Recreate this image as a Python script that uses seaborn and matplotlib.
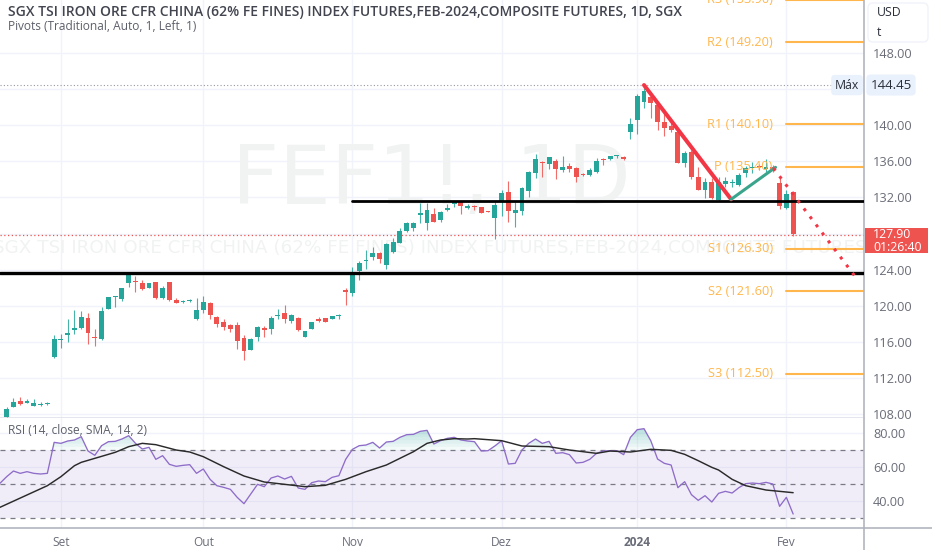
import numpy as np
import matplotlib
matplotlib.use("Agg")
import matplotlib.pyplot as plt
from matplotlib.lines import Line2D
from matplotlib.patches import FancyBboxPatch
import seaborn as sns

# candles, one value per trading day
opens = [107.72,108.83,109.46,109.24,108.94,108.98,109.09,114.33,116.18,116.77,117.28,117.51,118.65,116.55,116.29,119.65,
         120.94,120.79,122.49,122.75,122.56,121.97,122.60,120.83,122.67,120.64,120.42,120.57,118.50,119.54,120.31,118.72,
         118.17,117.91,117.84,116.40,115.14,116.55,117.54,117.47,118.83,119.17,118.32,118.65,116.58,117.47,118.50,118.69,
         118.54,118.87,121.75,121.38,123.90,124.97,125.45,125.86,124.53,125.97,126.96,128.26,128.59,130.03,129.14,130.18,
         129.47,130.65,131.32,131.47,130.80,131.10,130.91,130.51,129.77,131.47,132.61,130.32,130.47,132.76,134.75,135.93,
         135.71,136.08,135.05,135.49,135.27,134.60,134.46,134.83,136.23,136.30,136.60,136.45,139.25,140.58,142.54,143.09,
         142.28,140.40,139.96,139.29,135.82,137.00,134.31,132.83,133.68,131.72,133.50,133.61,133.39,134.68,135.30,135.49,
         135.19,135.42,133.57,130.80,132.65]
highs = [108.76,109.75,109.90,109.64,109.64,109.35,109.35,116.73,116.84,118.54,119.54,119.39,119.17,117.39,119.87,121.01,
         121.12,122.01,123.67,123.30,122.82,122.49,122.64,122.19,122.67,120.83,120.64,120.79,120.90,121.09,120.42,118.87,
         118.54,117.95,118.17,116.77,116.40,117.76,117.76,118.87,119.61,120.05,119.09,118.72,117.21,118.25,118.73,118.69,
         118.87,119.10,121.94,124.26,125.01,126.19,126.48,126.00,126.93,127.48,128.59,129.25,129.33,131.43,131.36,130.88,
         130.54,131.28,131.65,131.65,131.25,131.13,130.95,130.54,131.54,132.83,133.83,131.54,133.20,134.97,136.82,136.08,
         136.52,136.23,136.60,135.86,135.34,134.71,135.23,136.34,136.34,136.63,136.71,136.60,140.77,143.46,144.45,143.24,
         142.43,141.32,140.40,139.48,137.15,137.26,135.34,134.12,134.12,134.31,134.31,134.05,134.68,135.49,135.97,135.71,
         136.23,135.60,134.12,132.83,132.76]
lows = [107.72,108.83,109.01,109.20,108.90,108.94,109.01,114.18,115.29,116.03,116.88,117.47,115.81,115.59,116.21,119.61,
        119.90,120.53,122.05,121.49,121.79,121.93,120.79,120.79,120.53,120.27,120.35,120.46,118.46,119.17,118.58,117.62,
        117.32,117.14,115.25,114.00,115.11,116.14,116.55,116.91,118.58,118.13,118.13,117.17,116.55,117.40,118.21,118.21,
        118.50,118.50,120.09,121.13,122.87,124.05,125.08,124.79,124.12,125.82,126.93,128.22,128.26,129.14,128.40,129.29,
        129.25,130.51,130.91,130.18,130.73,130.62,130.25,130.36,127.44,129.95,129.33,128.70,130.03,132.09,134.12,134.31,
        135.12,134.05,134.83,134.79,133.76,134.38,134.38,134.75,135.60,136.16,136.34,136.16,138.44,139.00,141.87,140.77,
        139.48,138.85,139.29,135.78,135.34,134.01,132.83,131.91,131.80,131.65,133.20,133.20,133.27,134.23,134.75,135.05,
        134.86,134.86,130.69,130.69,127.74]
closes = [108.54,109.38,109.09,109.46,109.24,109.16,109.24,116.32,116.32,116.99,117.51,118.80,117.03,116.43,119.46,121.01,
          121.09,121.93,123.60,122.60,121.82,122.49,120.83,121.93,120.64,120.35,120.57,120.68,119.54,120.38,118.98,118.02,
          117.69,117.47,116.14,114.96,116.36,117.65,117.36,118.65,118.98,118.58,119.02,117.28,117.17,118.17,118.36,118.21,
          118.84,119.02,121.49,123.78,124.71,125.08,125.82,125.23,126.89,127.11,128.26,129.22,129.22,130.25,130.58,129.33,
          130.36,130.88,131.47,131.10,131.06,130.99,130.32,130.43,131.17,132.54,130.47,130.62,133.05,134.86,136.23,135.82,
          136.45,135.12,135.42,135.20,134.31,134.46,135.01,136.04,136.12,136.60,136.67,136.30,140.10,143.24,143.83,142.43,
          140.32,139.66,139.44,135.86,136.97,134.23,132.87,133.68,131.98,133.68,133.86,133.72,134.49,135.30,135.42,135.34,
          135.34,135.16,131.06,132.39,127.92]

# RSI starts one bar left of the first candle
rsi_vals = [50.57,54.49,57.82,56.45,57.43,56.45,56.06,56.45,74.68,74.09,75.47,76.06,78.02,69.58,67.04,72.72,75.07,75.27,
            76.64,78.60,74.09,70.76,71.74,64.68,66.84,61.74,60.57,61.15,61.55,56.45,59.00,52.92,49.19,48.21,47.04,42.33,
            38.60,44.29,49.98,48.60,53.70,54.88,53.11,54.68,47.82,47.04,50.96,51.94,51.55,54.09,55.07,64.68,70.57,72.72,
            73.11,74.68,71.35,74.88,75.27,77.62,79.19,79.39,81.15,81.74,73.70,75.66,77.04,77.62,76.06,75.47,75.07,69.58,
            69.78,72.53,75.66,61.94,62.33,70.17,74.09,76.64,74.09,75.27,68.21,68.60,67.43,62.53,62.92,64.68,68.21,69.58,
            69.78,69.78,67.43,77.62,82.13,82.72,75.66,64.88,62.33,61.35,48.02,51.55,43.90,40.56,43.31,39.58,44.68,45.86,
            44.88,48.02,50.37,50.76,50.37,51.15,50.17,37.03,42.33,32.53]
sma_bars = [-1,6,8,10,11,16,18,20,22,25,27,29,32,35,38,41,44,47,50,53,56,58,60,62,64,66,68,69,73,76,80,83,87,89,92,95,98,
            100,102,104,105,107,109,112,114,116]
sma_vals = [36.45,49.19,54.49,60.96,62.92,68.80,72.13,74.09,73.31,70.17,69.00,66.25,60.37,54.88,51.35,49.98,48.60,49.39,
            52.92,57.43,61.35,65.27,69.19,74.09,76.06,76.84,76.64,76.84,75.66,72.53,72.13,70.17,68.21,69.58,69.00,70.57,
            69.98,67.62,63.90,59.98,58.41,52.92,49.19,46.64,45.86,45.07]

pivot_names = ["R3", "R2", "R1", "P", "S1", "S2", "S3"]
pivot_vals = [153.90, 149.20, 140.10, 135.40, 126.30, 121.60, 112.50]

price_ticks = [108, 112, 116, 120, 124, 128, 132, 136, 140, 144, 148]
rsi_ticks = [40, 60, 80]
month_bars = [8, 29, 51, 73, 93, 115]
month_labels = ["Set", "Out", "Nov", "Dez", "2024", "Fev"]

# lines drawn by hand on the chart, bar index and price
resist_bars, resist_vals = [51, 126.5], [131.6, 131.6]
support_bars, support_vals = [-1, 126.5], [123.64, 123.64]
down_bars, down_vals = [94, 106.85], [144.45, 131.8]
up_bars, up_vals = [106.85, 113.4], [131.8, 135.34]
proj_bars, proj_vals = [113.1, 125.6], [135.24, 122.8]

HIGH = 144.45
LAST = 127.90
GREEN = "#26a69a"
RED = "#ef5350"
ORANGE = "#ffb74d"
GRID = "#f0f3fa"
TEXT = "#6a6d78"
MARK = "#f1f3f3"
AXIS = "#b2b5be"

sns.set_theme(style="white")
plt.rcParams["font.family"] = ["Open Sans", "DejaVu Sans"]

W, H = 932, 550
fig = plt.figure(figsize=(W / 100, H / 100), dpi=100)
ax = fig.add_axes([0, (H - 418) / H, 864 / W, 418 / H])
ax_rsi = fig.add_axes([0, (H - 528) / H, 864 / W, 110 / H])

for a in (ax, ax_rsi):
    a.set_xlim(-0.984, 126.45)
    a.set_xticks(month_bars)
    a.grid(True, color=GRID, lw=1)
    a.set_axisbelow(True)
    a.yaxis.tick_right()
    a.tick_params(length=0, colors=TEXT)
    a.tick_params(axis="y", pad=6.5, labelsize=9.2)
    a.tick_params(axis="x", labelsize=8.6)
    for s in ("top", "left", "bottom"):
        a.spines[s].set_visible(False)
    a.spines["right"].set_color(AXIS)
    a.spines["right"].set_linewidth(1.2)

# main pane
ax.set_ylim(107.58, 153.87)
ax.set_yticks(price_ticks)
ax.set_yticklabels([f"{v:.2f}" for v in price_ticks])
ax.tick_params(labelbottom=False)
ax.spines["bottom"].set_visible(True)
ax.spines["bottom"].set_color("#e0e3eb")

ax.text(62.7, 133.8, "FEF1!, 1D", fontsize=59, color=MARK, family="DejaVu Sans", ha="center", va="center", zorder=1)
ax.text(62.4, 126.4, "SGX TSI IRON ORE CFR CHINA (62% FE FINES) INDEX FUTURES,FEB-2024,COMPOSITE FUTURES",
        fontsize=13.2, color=MARK, family="DejaVu Sans", ha="center", va="center", zorder=1, clip_on=True)

bars = np.arange(len(opens))
o, h, l, c = map(np.array, (opens, highs, lows, closes))
cols = np.where(c >= o, GREEN, RED)
ax.vlines(bars, l, h, colors=cols, lw=0.8, alpha=0.85, zorder=3)
ax.bar(bars, np.abs(c - o), bottom=np.minimum(o, c), width=0.72, color=cols, lw=0, zorder=4)

ax.axhline(HIGH, color="#9598a1", lw=0.8, ls=(0, (1, 2)), zorder=2)
ax.axhline(LAST, color=RED, lw=0.9, ls=(0, (1, 2)), zorder=2)

for name, val in zip(pivot_names, pivot_vals):
    ax.plot([115, 126.45], [val, val], color=ORANGE, lw=1.5, zorder=2)
    ax.text(113, val, f"{name} ({val:.2f})", color=ORANGE, fontsize=9.2, ha="right", va="center", zorder=5)

sns.lineplot(x=resist_bars, y=resist_vals, ax=ax, color="black", lw=2, zorder=5, errorbar=None)
sns.lineplot(x=support_bars, y=support_vals, ax=ax, color="black", lw=2.4, zorder=5, errorbar=None)
sns.lineplot(x=down_bars, y=down_vals, ax=ax, color="#f23645", lw=2.9, zorder=6, errorbar=None, sort=False)
sns.lineplot(x=up_bars, y=up_vals, ax=ax, color="#3aa58c", lw=2.2, zorder=6, errorbar=None, sort=False)
sns.lineplot(x=proj_bars, y=proj_vals, ax=ax, color="#f23645", lw=2.2, zorder=6, errorbar=None, sort=False,
             linestyle=(0, (1, 2.3)))
ax.set_xlabel("")
ax.set_ylabel("")

# legends, top left
ax.text(8 / 864, 1 - 12 / 418, "SGX TSI IRON ORE CFR CHINA (62% FE FINES) INDEX FUTURES,FEB-2024,COMPOSITE FUTURES, 1D, SGX",
        transform=ax.transAxes, fontsize=10, fontweight="semibold", color="#42454f", va="center", zorder=7)
ax.text(8 / 864, 1 - 26 / 418, "Pivots (Traditional, Auto, 1, Left, 1)", transform=ax.transAxes,
        fontsize=8.6, color="#5d606b", va="center", zorder=7)

# labels on the price scale
tr = ax.get_yaxis_transform()
ax.text(847 / 864, HIGH, "Máx", transform=tr, fontsize=8.8, color="#2a2e39", ha="center", va="center",
        bbox=dict(boxstyle="round,pad=0.3", fc="#e8f1fc", ec="none"), zorder=8, clip_on=False)
ax.text(891 / 864, HIGH, "144.45", transform=tr, fontsize=9.6, color="#2a2e39", ha="center", va="center",
        bbox=dict(boxstyle="round,pad=0.3", fc="#e8f1fc", ec="none"), zorder=8, clip_on=False)
ax.add_patch(plt.Rectangle((865 / 864, 125.85), 63 / 864, 2.77, transform=tr, fc=RED, ec="none", zorder=8, clip_on=False))
ax.text(873 / 864, LAST + 0.05, f"{LAST:.2f}", transform=tr, fontsize=8.8, color="white", va="center", zorder=9, clip_on=False)
ax.text(873 / 864, 126.5, "01:26:40", transform=tr, fontsize=8.8, color="white", va="center", zorder=9, clip_on=False)

# currency box, top right
fig.add_artist(FancyBboxPatch((868, H - 42), 60, 39, boxstyle="round,pad=0,rounding_size=5",
                              transform=None, fc="white", ec=GRID, lw=1, zorder=6))
fig.text(877 / W, 1 - 12.5 / H, "USD", fontsize=8.8, color="#2a2e39", va="center", zorder=7)
fig.text(877 / W, 1 - 32 / H, "t", fontsize=8.8, color="#2a2e39", va="center", zorder=7)

# RSI pane
ax_rsi.set_ylim(24.3, 89)
ax_rsi.set_yticks(rsi_ticks)
ax_rsi.set_yticklabels([f"{v:.2f}" for v in rsi_ticks])
ax_rsi.set_xticklabels(month_labels)
ax_rsi.tick_params(axis="x", pad=6)
ax_rsi.get_xticklabels()[4].set_fontweight("bold")
ax_rsi.spines["bottom"].set_visible(True)
ax_rsi.spines["bottom"].set_color(AXIS)
ax_rsi.spines["bottom"].set_linewidth(1.2)

rsi_bars = np.arange(-1, len(rsi_vals) - 1)
rsi = np.array(rsi_vals)
ax_rsi.axhspan(30, 70, color="#7e57c2", alpha=0.1, lw=0, zorder=1)
for lev in (70, 50, 30):
    ax_rsi.axhline(lev, color="#787b86", lw=0.9, ls=(0, (4, 4)), zorder=2)
# overbought fill fades out towards the 70 line
for lev in range(70, 84, 2):
    ax_rsi.fill_between(rsi_bars, lev, rsi, where=rsi > lev, interpolate=True, color=GREEN, alpha=0.05, lw=0, zorder=2)
sns.lineplot(x=rsi_bars, y=rsi, ax=ax_rsi, color="#8e6cc9", lw=0.95, zorder=4, errorbar=None)
sns.lineplot(x=sma_bars, y=sma_vals, ax=ax_rsi, color="#2a2a2a", lw=1.05, zorder=5, errorbar=None)
ax_rsi.text(8 / 864, 1 - 12 / 110, "RSI (14, close, SMA, 14, 2)", transform=ax_rsi.transAxes,
            fontsize=8.6, color="#5d606b", va="center", zorder=7)
ax_rsi.set_xlabel("")
ax_rsi.set_ylabel("")

# price scale edge runs to the bottom, time scale edge to the right
fig.add_artist(Line2D([864 / W, 864 / W], [0, 22 / H], color=AXIS, lw=1.2))
fig.add_artist(Line2D([864 / W, 1], [22 / H, 22 / H], color=AXIS, lw=1.2))

fig.savefig("out.png", dpi=100, facecolor="white")
